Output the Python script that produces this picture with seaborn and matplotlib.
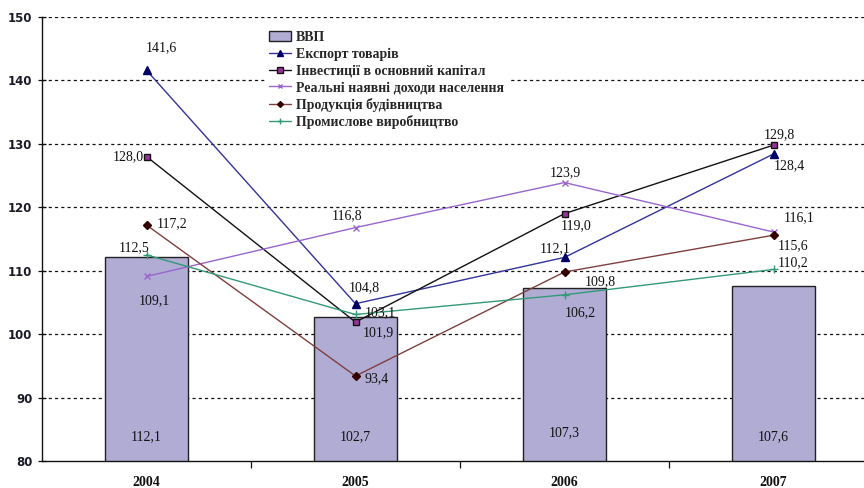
import numpy as np
import pandas as pd
import matplotlib
matplotlib.use("Agg")
import matplotlib.pyplot as plt
from matplotlib.lines import Line2D
from matplotlib.patches import Patch
import seaborn as sns

# data
years = ["2004", "2005", "2006", "2007"]
gdp = [112.1, 102.7, 107.3, 107.6]
export = [141.6, 104.8, 112.1, 128.4]
invest = [128.0, 101.9, 119.0, 129.8]
income = [109.1, 116.8, 123.9, 116.1]
construct = [117.2, 93.4, 109.8, 115.6]
industry = [112.5, 103.1, 106.2, 110.2]

names = ["ВВП", "Експорт товарів", "Інвестиції в основний капітал",
         "Реальні наявні доходи населення", "Продукція будівництва",
         "Промислове виробництво"]

sns.set_style("white")
plt.rcParams['font.family'] = ['Liberation Serif', 'DejaVu Serif']

fig = plt.figure(figsize=(8.64, 4.88), dpi=100)
ax = fig.add_axes([42 / 864, 27 / 488, 836 / 864, 444 / 488])

bar_color = "#B0ACD4"
df = pd.DataFrame({"year": years, "gdp": gdp})
sns.barplot(data=df, x="year", y="gdp", color=bar_color, width=0.40,
            edgecolor="#222222", linewidth=1.0, saturation=1, ax=ax, zorder=2)

# line series: (values, line colour, marker, marker face, marker edge, size)
series = [
    (export, "#333399", "^", "#000066", "#000066", 6),
    (invest, "#111111", "s", "#993399", "#111111", 5),
    (income, "#9966CC", "x", "#9966CC", "#9966CC", 4),
    (construct, "#7F3F3F", "D", "#330000", "#330000", 4),
    (industry, "#339977", "+", "#339977", "#339977", 6),
]
xpos = np.arange(len(years))
for vals, lc, mk, mf, me, ms in series:
    ax.plot(xpos, vals, color=lc, lw=1.0, marker=mk, markerfacecolor=mf,
            markeredgecolor=me, markersize=ms, zorder=4)

# value labels: offsets in pixels, alignment
lbl_fs = 10
ann = [
    # export
    (export, [(15, 23, "center"), (9, 16, "center"), (-9, 9, "center"), (16, -12, "center")]),
    # invest
    (invest, [(-3, 0, "right"), (23, -11, "center"), (12, -12, "center"), (6, 10, "center")]),
    # income
    (income, [(8, -24, "center"), (-8, 12, "center"), (1, 10, "center"), (26, 14, "center")]),
    # construct
    (construct, [(10, 1, "left"), (9, -3, "left"), (36, -10, "center"), (20, -10, "center")]),
    # industry
    (industry, [(-12, 7, "center"), (9, 2, "left"), (16, -18, "center"), (20, 7, "center")]),
]
for vals, offs in ann:
    for i, (v, (dx, dy, ha)) in enumerate(zip(vals, offs)):
        ax.annotate(f"{v:.1f}".replace(".", ","), (i, v), xytext=(dx, dy),
                    textcoords="offset pixels", ha=ha, va="center",
                    fontsize=lbl_fs, color="#111111", zorder=6)

# bar labels near the bottom
for i, v in enumerate(gdp):
    ax.text(i, 83.8 if i != 2 else 84.5, f"{v:.1f}".replace(".", ","),
            ha="center", va="center", fontsize=lbl_fs, color="#111111", zorder=6)

ax.set_ylim(80, 150)
ax.set_xlim(-0.5, 3.5)
ax.set_yticks(range(80, 151, 10))
for yv in range(90, 151, 10):
    ax.axhline(yv, color="#111111", lw=0.9, ls=(0, (2.5, 2.5)), zorder=1)

ax.set_xlabel("")
ax.set_ylabel("")
for s in ["top", "right"]:
    ax.spines[s].set_visible(False)
for s in ["left", "bottom"]:
    ax.spines[s].set_color("#111111")
    ax.spines[s].set_linewidth(1.0)

ax.tick_params(axis="y", direction="inout", length=6, width=0.9, colors="#111111",
               left=True, pad=4)
for t in ax.get_yticklabels():
    t.set_fontfamily("DejaVu Sans")
    t.set_fontweight("bold")
    t.set_fontsize(8.5)
    t.set_color("#1a1a2a")

ax.set_xticks(xpos)
ax.set_xticks([0.5, 1.5, 2.5], minor=True)
ax.tick_params(axis="x", which="major", length=0, pad=11)
ax.tick_params(axis="x", which="minor", direction="out", length=5, width=0.9,
               colors="#111111", bottom=True)
ax.set_xticklabels(years, fontsize=10, fontweight="bold", color="#111111")

handles = [Patch(facecolor=bar_color, edgecolor="#222222", linewidth=1.0)]
for vals, lc, mk, mf, me, ms in series:
    handles.append(Line2D([], [], color=lc, lw=1.0, marker=mk, markerfacecolor=mf,
                          markeredgecolor=me, markersize=ms - 1))
leg = ax.legend(handles, names, loc="upper left",
                bbox_to_anchor=((258 - 42) / 836, 1 - 3 / 444),
                frameon=True, fancybox=False, framealpha=1, edgecolor="white",
                handlelength=1.6, handletextpad=0.3, labelspacing=0.26,
                borderpad=0.3, prop={"family": "Liberation Serif", "weight": "bold", "size": 10})
leg.set_zorder(5)

fig.savefig("out.png", dpi=100)
